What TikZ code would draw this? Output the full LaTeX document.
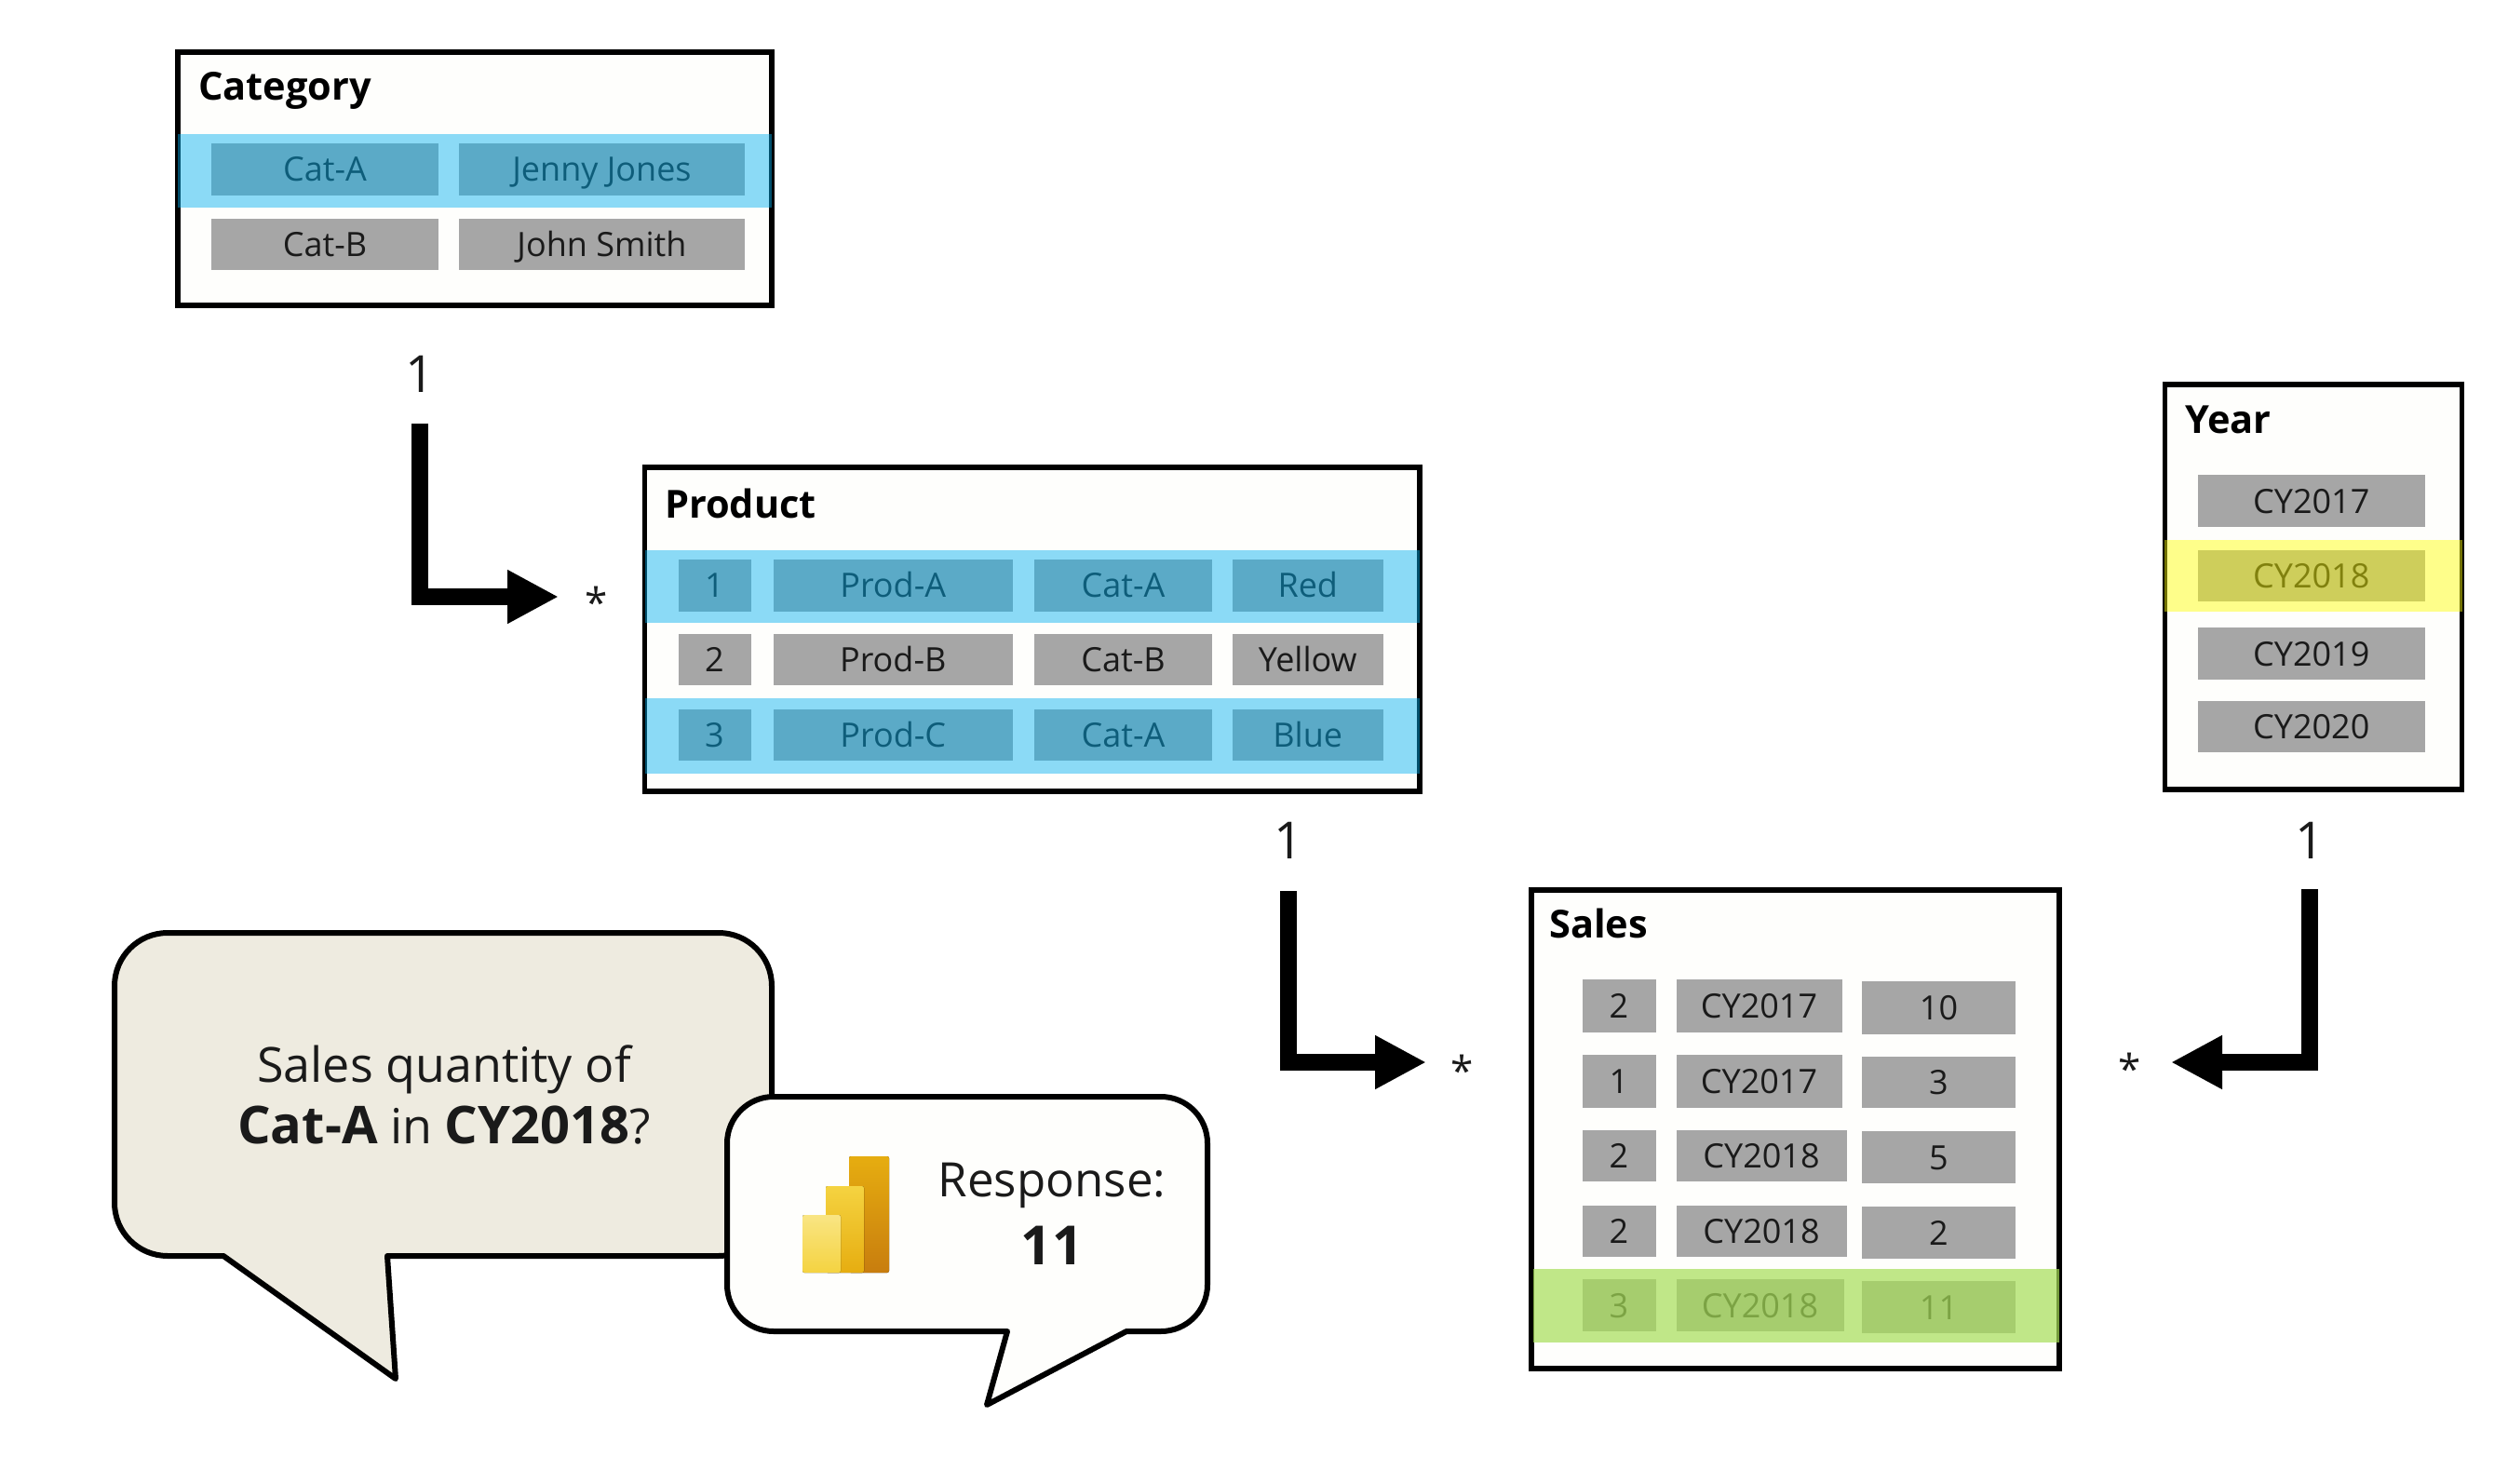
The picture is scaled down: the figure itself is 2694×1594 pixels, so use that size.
\documentclass[tikz,border=0pt]{standalone}
\usepackage{fontspec}
\setmainfont{Open Sans}
\usetikzlibrary{
  arrows.meta,
  positioning
}
\definecolor{cellgray}{HTML}{A6A6A6}
\definecolor{boxfill}{HTML}{FEFEFC}
\definecolor{askfill}{HTML}{EEEBE0}
\definecolor{inktext}{HTML}{1A1A1A}
\definecolor{markblue}{HTML}{00B0F0}
\definecolor{markyellow}{HTML}{FFFF00}
\definecolor{markgreen}{HTML}{A6DE57}
\definecolor{pbilight}{HTML}{F9E583}
\definecolor{pbimid}{HTML}{F2C811}
\definecolor{pbigold}{HTML}{E6AD10}
\definecolor{pbidark}{HTML}{C87D0E}
\newcommand{\fsize}[1]{\fontsize{#1}{#1}\selectfont}

\begin{document}
\begin{tikzpicture}[
      x=1pt,y=-1pt,
      tablebox/.style={draw=black, line width=5.5pt, fill=boxfill},
      tabletitle/.style={anchor=base west, inner sep=0pt, font=\fsize{41.5}\bfseries, text=black},
      cell/.style={fill=cellgray, inner sep=0pt, font=\fsize{36}, text=inktext,
         text height=26pt, text depth=0pt},
      overlay/.style={fill=#1, fill opacity=0.45, draw=none},
      card/.style={inner sep=0pt, font=\fsize{55}, text=inktext},
      many/.style={inner sep=0pt, font=\fsize{44}, text=inktext},
      rel/.style={draw=black, line width=18pt, line join=miter,
         -{Triangle[length=55pt, width=54pt]}},
      bubble/.style={draw=black, line width=6pt, line join=round},
      pbibar/.style={rounded corners=2pt, draw=none},
    ]
    \useasboundingbox (0,0) rectangle (2694,1594);

    % table frames
    \draw[tablebox] (191,56) rectangle (829,328);
    \draw[tablebox] (692.5,502) rectangle (1525,850);
    \draw[tablebox] (2325.5,413) rectangle (2644.5,848);
    \draw[tablebox] (1645,956) rectangle (2212,1470);

    \node[tabletitle] (titlecat) at (213,108) {Category};
    \node[tabletitle] (titleprod) at (714,556) {Product};
    \node[tabletitle] (titleyear) at (2347,465.5) {Year};
    \node[tabletitle] (titlesales) at (1664,1007) {Sales};

    % cells: name/left/right/top/bottom/text
    \foreach \nm/\xa/\xb/\ya/\yb/\txt in {
       c11/227/471/154/210/Cat-A, c12/493/800/154/210/Jenny Jones,
       c21/227/471/235/290/Cat-B, c22/493/800/235/290/John Smith,
       p11/728.5/806.5/600.5/656.5/1, p12/830.5/1088/600.5/656.5/Prod-A, p13/1111/1302/600.5/656.5/Cat-A, p14/1324/1485.5/600.5/656.5/Red,
       p21/728.5/806.5/681/736/2, p22/830.5/1088/681/736/Prod-B, p23/1111/1302/681/736/Cat-B, p24/1324/1485.5/681/736/Yellow,
       p31/728.5/806.5/762/817/3, p32/830.5/1088/762/817/Prod-C, p33/1111/1302/762/817/Cat-A, p34/1324/1485.5/762/817/Blue,
       y1/2360.5/2605/510/566/CY2017, y2/2360.5/2605/591/646/CY2018, y3/2360.5/2605/674/730/CY2019, y4/2360.5/2605/753/808/CY2020,
       s11/1699.5/1778.5/1052/1109/2, s12/1800.5/1978.5/1052/1109/CY2017, s13/2000/2165/1054/1111/10,
       s21/1699.5/1778.5/1133/1190/1, s22/1800.5/1978.5/1133/1190/CY2017, s23/2000/2165/1135/1190/3,
       s31/1699.5/1778.5/1214/1269/2, s32/1800.5/1983.5/1214/1269/CY2018, s33/2000/2165/1215/1271/5,
       s41/1699.5/1778.5/1295/1350/2, s42/1800.5/1983.5/1295/1350/CY2018, s43/2000/2165/1296/1352/2,
       s51/1699.5/1778.5/1374/1430/3, s52/1800.5/1980.5/1374/1430/CY2018, s53/2000/2165/1376/1432/11
    } {
       \node[cell, minimum width={(\xb-\xa)*1pt}, minimum height={(\yb-\ya)*1pt}]
          (\nm) at ({(\xa+\xb)/2},{(\ya+\yb)/2}) {\txt};
    }

    % highlighted rows
    \fill[overlay=markblue] (191,144) rectangle (829,223);
    \fill[overlay=markblue] (693,590.5) rectangle (1525,668.5);
    \fill[overlay=markblue] (693,750) rectangle (1525,831);
    \fill[overlay=markyellow] (2325,580) rectangle (2645,657);
    \fill[overlay=markgreen, fill opacity=0.7] (1647,1363) rectangle (2212,1442);

    % relationships
    \node[card] (one1) at (451,402) {1};
    \node[many] (many1) at (641,647) {*};
    \coordinate (from1) at (451,455);
    \coordinate (to1) at (600,641);
    \draw[rel] (from1) |- (to1);

    \node[card] (one2) at (1384,903) {1};
    \node[many] (many2) at (1571,1150) {*};
    \coordinate (from2) at (1383.5,957);
    \coordinate (to2) at (1532,1141);
    \draw[rel] (from2) |- (to2);

    \node[card] (one3) at (2481,903) {1};
    \node[many] (many3) at (2288,1148) {*};
    \coordinate (from3) at (2481,955);
    \coordinate (to3) at (2332,1141);
    \draw[rel] (from3) |- (to3);

    % question and answer
    \draw[bubble, fill=askfill]
       (180,1002) -- (772,1002) arc[start angle=-90, end angle=0, radius=57] -- (829,1292)
       arc[start angle=0, end angle=90, radius=57] -- (416,1349) -- (425,1481) -- (240,1349) -- (180,1349)
       arc[start angle=90, end angle=180, radius=57] -- (123,1059) arc[start angle=180, end angle=270, radius=57] -- cycle;
    \node[inner sep=0pt, align=center, font=\fsize{52}, text=inktext] (ask) at (477,1176)
       {Sales quantity of\\[12pt]{\fsize{56}\textbf{Cat-A}} in {\fsize{56}\textbf{CY2018}}?};

    \draw[bubble, fill=boxfill]
       (831,1178) -- (1247,1178) arc[start angle=-90, end angle=0, radius=50] -- (1297,1380)
       arc[start angle=0, end angle=90, radius=50] -- (1210,1430) -- (1060,1509) -- (1082,1430) -- (831,1430)
       arc[start angle=90, end angle=180, radius=50] -- (781,1228) arc[start angle=180, end angle=270, radius=50] -- cycle;
    \node[inner sep=0pt, font=\fsize{51}, text=inktext, anchor=base] (resp) at (1130,1285) {Response:};
    \node[inner sep=0pt, font=\fsize{58}\bfseries, text=inktext, anchor=base] (answer) at (1130,1358) {11};

    % logo
    \fill[pbibar, top color=pbigold, bottom color=pbidark] (912,1242) rectangle (955,1367);
    \fill[pbibar, top color=pbimid!80!white, bottom color=pbigold] (887,1274) rectangle (928,1367);
    \fill[pbibar, top color=pbilight, bottom color=pbimid!80!white] (862,1305) rectangle (903,1367);
\end{tikzpicture}
\end{document}
